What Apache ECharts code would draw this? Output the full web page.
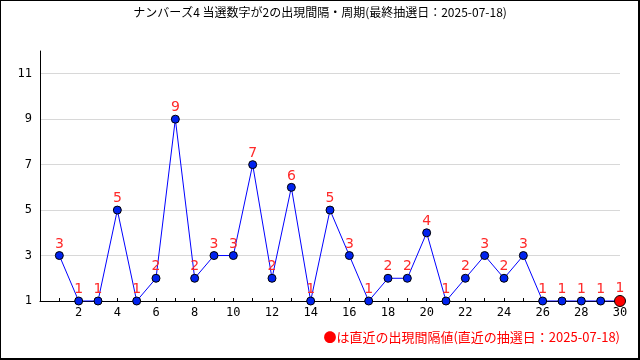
<!DOCTYPE html>
<html>
<head>
<meta charset="utf-8">
<script src="https://cdn.jsdelivr.net/npm/echarts@6/dist/echarts.min.js"></script>
<style>
html,body{margin:0;padding:0;background:#fff;}
#wrap{position:relative;width:640px;height:360px;}
#main{width:640px;height:360px;}
#frame{position:absolute;left:0;top:0;width:640px;height:360px;box-sizing:border-box;border-left:1px solid #000;border-top:1px solid #000;border-right:2px solid #000;border-bottom:2px solid #000;pointer-events:none;}
</style>
</head>
<body>
<div id="wrap"><div id="main"></div><div id="frame"></div></div>
<script>
const titleText = 'ナンバーズ4 当選数字が2の出現間隔・周期(最終抽選日：2025-07-18)';
const noteText = '●は直近の出現間隔値(直近の抽選日：2025-07-18)';
const drawIndex = [1,2,3,4,5,6,7,8,9,10,11,12,13,14,15,16,17,18,19,20,21,22,23,24,25,26,27,28,29,30];
const intervals = [3,1,1,5,1,2,9,2,3,3,7,2,6,1,5,3,1,2,2,4,1,2,3,2,3,1,1,1,1,1];
const yTicks = [1,3,5,7,9,11];
const xTickLabels = [2,4,6,8,10,12,14,16,18,20,22,24,26,28,30];

const chart = echarts.init(document.getElementById('main'), null, {renderer:'canvas'});
const last = drawIndex.length - 1;
const pts = drawIndex.map((x,i)=>{
  const p = {value:[x, intervals[i]]};
  if (i === last) {
    p.symbolSize = 11;
    p.itemStyle = {color:'#ff0000', borderColor:'#000', borderWidth:1};
  }
  return p;
});
chart.setOption({
  animation:false,
  title:{text:titleText,left:'center',top:1,textStyle:{fontSize:12,fontWeight:'normal',color:'#000',fontFamily:'Noto Sans CJK JP'}},
  grid:{left:40,right:20,top:51,bottom:59,containLabel:false},
  xAxis:{type:'value',min:0,max:30,interval:1,
    axisLine:{lineStyle:{color:'#000',width:1}},
    axisTick:{show:true,inside:true,length:3,lineStyle:{color:'#000'}},
    splitLine:{show:false},
    axisLabel:{color:'#000',fontSize:12,fontFamily:'DejaVu Sans Mono',margin:6,
      formatter:v=>xTickLabels.indexOf(v)>=0?String(v):''}},
  yAxis:{type:'value',min:1,max:12,interval:2,
    axisLine:{show:true,lineStyle:{color:'#000',width:1}},
    axisTick:{show:false},
    splitLine:{show:true,showMinLine:false,showMaxLine:false,lineStyle:{color:'#d8d8d8',width:1}},
    axisLabel:{color:'#000',fontSize:12,fontFamily:'DejaVu Sans Mono',margin:8,
      formatter:v=>yTicks.indexOf(v)>=0?String(v):''}},
  series:[{type:'line',data:pts,symbol:'circle',symbolSize:8,
    lineStyle:{color:'#0000ff',width:1},
    itemStyle:{color:'#0022ee',borderColor:'#000',borderWidth:1},
    label:{show:true,position:'top',distance:0,color:'#ff2a2a',fontSize:14,fontFamily:'DejaVu Sans',
      formatter:p=>String(p.value[1])}}],
  graphic:[{type:'text',right:20,top:331,style:{text:noteText,fill:'#ff0000',font:'13px "Noto Sans CJK JP"'}}]
});
</script>
</body>
</html>
